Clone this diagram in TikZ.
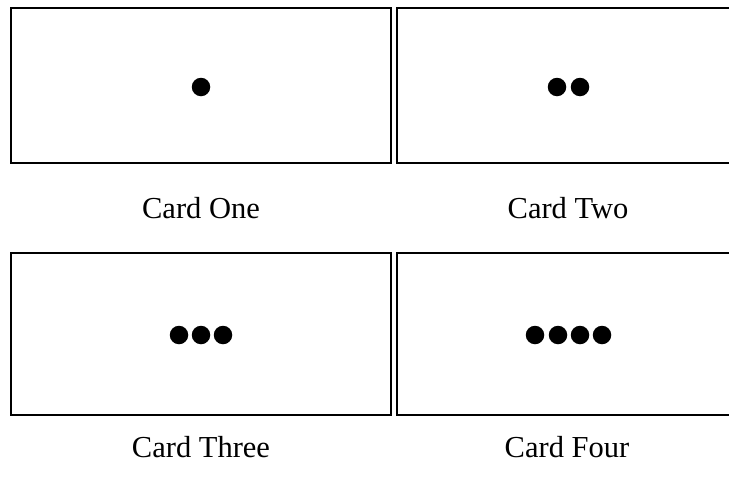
\documentclass[tikz,border=0pt]{standalone}
\usepackage{fontspec}
\setmainfont{Liberation Serif}
\usetikzlibrary{positioning}

\begin{document}
\begin{tikzpicture}[
    x=1pt, y=-1pt,
    % tarjetas: rectangulos blancos con borde negro grueso
    card/.style={
        rectangle,
        draw=black,
        line width=2.8pt,
        fill=white,
        minimum width=380pt,
        inner sep=0pt
    },
    dot/.style={circle, fill=black, minimum size=18.5pt, inner sep=0pt},
    cardlabel/.style={anchor=base, font=\fontsize{30.5}{36}\selectfont}
]

    % --- LIENZO ---
    \useasboundingbox (0,0) rectangle (729,477);
    \clip (0,0) rectangle (729,477);

    % --- TARJETAS ---
    \node[card, minimum height=155pt] (one) at (201,85.5) {};
    \node[card, minimum height=155pt] (two) at (587,85.5) {};
    \node[card, minimum height=162pt] (three) at (201,334) {};
    \node[card, minimum height=162pt] (four) at (587,334) {};

    % --- PUNTOS ---
    \node[dot] (d1) at (201,87) {};
    \foreach \i/\x in {1/557,2/580}
        \node[dot] (e\i) at (\x,87) {};
    \foreach \i/\x in {1/179,2/201,3/223}
        \node[dot] (f\i) at (\x,335) {};
    \foreach \i/\x in {1/535,2/558,3/580,4/602}
        \node[dot] (g\i) at (\x,335) {};

    % --- ETIQUETAS ---
    \node[cardlabel] (lone) at (201,218) {Card One};
    \node[cardlabel] (ltwo) at (568,218) {Card Two};
    \node[cardlabel] (lthree) at (201,457) {Card Three};
    \node[cardlabel] (lfour) at (567,457) {Card Four};

\end{tikzpicture}
\end{document}
